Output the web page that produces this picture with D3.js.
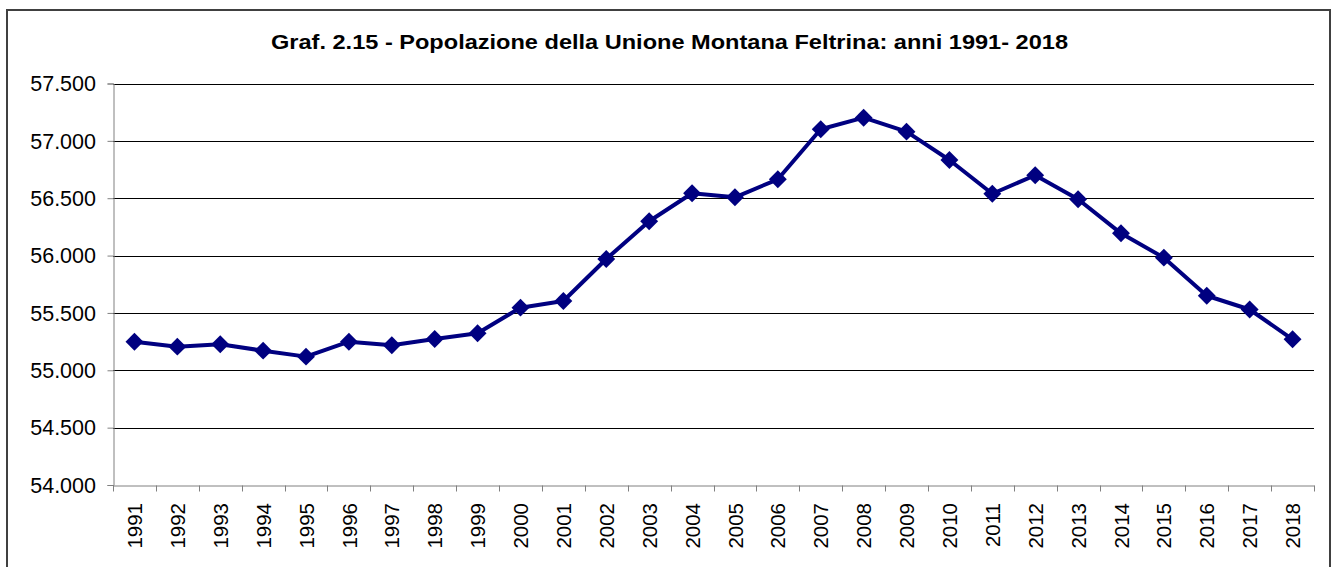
<!DOCTYPE html>
<html>
<head>
<meta charset="utf-8">
<script src="https://cdn.jsdelivr.net/npm/d3@7"></script>
<style>
  html, body { margin: 0; padding: 0; background: #fff; }
  svg { display: block; }
  text { font-family: "Liberation Sans", Arial, sans-serif; fill: #000; }
</style>
</head>
<body>
<svg id="chart" width="1338" height="567"></svg>
<script>
const title = "Graf. 2.15 - Popolazione della Unione Montana Feltrina: anni 1991- 2018";
const years = ["1991","1992","1993","1994","1995","1996","1997","1998","1999","2000",
  "2001","2002","2003","2004","2005","2006","2007","2008","2009","2010",
  "2011","2012","2013","2014","2015","2016","2017","2018"];
const population = [55249, 55206, 55227, 55171, 55119, 55249, 55218, 55273, 55323, 55546,
  55604, 55970, 56299, 56543, 56508, 56665, 57101, 57202, 57080, 56833,
  56539, 56700, 56491, 56194, 55982, 55650, 55530, 55270];
const yTicks = [54000, 54500, 55000, 55500, 56000, 56500, 57000, 57500];

const svg = d3.select("#chart");
const plot = { left: 113, right: 1314, top: 83.5, bottom: 485 };

// outer frame
svg.append("rect")
  .attr("x", 7).attr("y", 10).attr("width", 1323).attr("height", 570)
  .attr("fill", "#fff").attr("stroke", "#404040").attr("stroke-width", 2);

const x = d3.scaleBand().domain(years).range([plot.left, plot.right]).paddingInner(0).paddingOuter(0);
const y = d3.scaleLinear().domain([54000, 57500]).range([plot.bottom, plot.top]);

const fmt = v => d3.format(",")(v).replace(/,/g, ".");

// gridlines
svg.append("g")
  .selectAll("line")
  .data(yTicks.filter(t => t > 54000))
  .join("line")
  .attr("x1", plot.left).attr("x2", plot.right)
  .attr("y1", d => Math.round(y(d)) + 0.5).attr("y2", d => Math.round(y(d)) + 0.5)
  .attr("stroke", "#000").attr("stroke-width", 1);

// y axis
const yAxis = svg.append("g")
  .attr("transform", `translate(${plot.left + 0.5},0)`)
  .call(d3.axisLeft(y).tickValues(yTicks).tickSize(6).tickFormat(""));
yAxis.select(".domain").attr("stroke", "#808080");
yAxis.selectAll(".tick line").attr("stroke", "#808080");

// y labels
svg.append("g")
  .selectAll("text")
  .data(yTicks)
  .join("text")
  .attr("x", 96)
  .attr("y", d => y(d))
  .attr("text-anchor", "end")
  .attr("dy", "0.36em")
  .attr("font-size", 21.5)
  .text(d => fmt(d));

// x axis
const xAxis = svg.append("g")
  .attr("transform", `translate(0,${plot.bottom + 0.5})`)
  .call(d3.axisBottom(x).tickSize(0).tickFormat(""));
xAxis.select(".domain").attr("stroke", "#808080");
const boundaries = years.map(d => x(d)).concat([plot.right]);
xAxis.append("g").selectAll("line")
  .data(boundaries)
  .join("line")
  .attr("x1", d => Math.round(d) + 0.5).attr("x2", d => Math.round(d) + 0.5)
  .attr("y1", 0).attr("y2", 6)
  .attr("stroke", "#808080");

// x labels
svg.append("g")
  .selectAll("text")
  .data(years)
  .join("text")
  .attr("transform", d => `translate(${x(d) + x.bandwidth() / 2},503) rotate(-90)`)
  .attr("text-anchor", "end")
  .attr("dy", "0.37em")
  .attr("font-size", 20.5)
  .text(d => d);

// line
const pts = years.map((d, i) => [x(d) + x.bandwidth() / 2, y(population[i])]);
svg.append("path")
  .datum(pts)
  .attr("d", d3.line())
  .attr("fill", "none")
  .attr("stroke", "#000080")
  .attr("stroke-width", 4)
  .attr("stroke-linejoin", "round");

// markers
const diamond = d3.symbol().type(d3.symbolSquare).size(160);
svg.append("g")
  .selectAll("path")
  .data(pts)
  .join("path")
  .attr("d", diamond)
  .attr("transform", d => `translate(${d[0]},${d[1]}) rotate(45)`)
  .attr("fill", "#000080");

// title
svg.append("text")
  .attr("x", 669.5).attr("y", 49)
  .attr("text-anchor", "middle")
  .attr("font-size", 20)
  .attr("font-weight", "bold")
  .attr("textLength", 797)
  .attr("lengthAdjust", "spacingAndGlyphs")
  .text(title);
</script>
</body>
</html>
